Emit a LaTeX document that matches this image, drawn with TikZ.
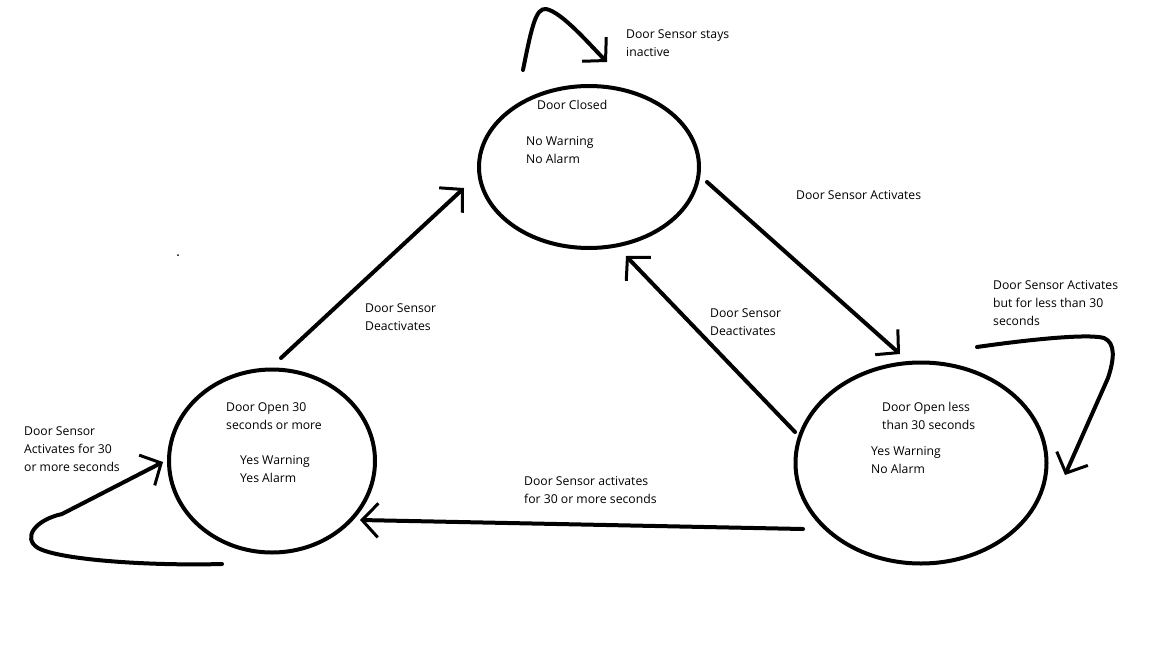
\documentclass[tikz,border=0pt]{standalone}
\usepackage{fontspec}
\setmainfont{Open Sans}
\usepackage{tikz}
\usetikzlibrary{positioning,calc,shapes.geometric,arrows.meta}

\begin{document}
\begin{tikzpicture}[x=1pt,y=-1pt]
        \tikzstyle{state}=[draw, ellipse, line width=4pt, inner sep=0pt]
        \tikzstyle{txt}=[anchor=west, align=left, inner sep=0pt, font=\fontsize{12.2}{18}\selectfont]
        \tikzstyle{edge}=[line width=4pt, line cap=round, line join=round, -{Straight Barb[length=16pt,width=34pt,line width=3pt]}]

        \useasboundingbox (0,0) rectangle (1152,648);

        % states
        \node   (closed)   [state, minimum width=220pt, minimum height=162pt] at (589,167) {};
        \node   (openless) [state, minimum width=251pt, minimum height=201pt] at (921,463) {};
        \node   (openmore) [state, minimum width=206pt, minimum height=183pt] at (272,461) {};

        \node   (closedname)   [txt] at (537,105) {Door Closed};
        \node   (closedout)    [txt] at (526,150) {No Warning\\No Alarm};
        \node   (opennessname) [txt] at (882,416) {Door Open less\\than 30 seconds};
        \node   (openlessout)  [txt] at (871,460) {Yes Warning\\No Alarm};
        \node   (openmorename) [txt] at (226,416) {Door Open 30\\seconds or more};
        \node   (openmoreout)  [txt] at (240,469) {Yes Warning\\Yes Alarm};

        % transitions
        \draw[edge] ($(closed.center)+(118,15)$) -- ($(openless.center)+(-21,-109)$);
        \draw[edge] ($(openless.center)+(-126,-31)$) -- ($(closed.center)+(37,89)$);
        \draw[edge] ($(openmore.center)+(9,-103)$) -- ($(closed.center)+(-125,21)$);
        \draw[edge] ($(openless.center)+(-118,66)$) -- ($(openmore.center)+(88,59)$);

        % loops
        \coordinate (closedloop)   at ($(closed.center)+(-66,-97)$);
        \coordinate (openlessloop) at ($(openless.center)+(56,-116)$);
        \coordinate (openmoreloop) at ($(openmore.center)+(-50,103)$);
        \draw[edge] (closedloop) .. controls (532,25) and (536,8) .. (546,9)
                    .. controls (562,12) and (590,45) .. ($(closed.center)+(18,-105)$);
        \draw[edge] (openlessloop) .. controls (1040,338) and (1090,334) .. (1104,338)
                    .. controls (1116,343) and (1114,360) .. (1108,378) -- ($(openless.center)+(144,12)$);
        \draw[edge] (openmoreloop) .. controls (150,566) and (60,560) .. (38,548)
                    .. controls (22,538) and (35,520) .. (62,514) -- ($(openmore.center)+(-109,1)$);

        % labels
        \node   (stayslabel)      [txt] at (626,43)  {Door Sensor stays\\inactive};
        \node   (activateslabel)  [txt] at (796,195) {Door Sensor Activates};
        \node   (shortlabel)      [txt] at (993,303) {Door Sensor Activates\\but for less than 30\\seconds};
        \node   (deactlesslabel)  [txt] at (710,322) {Door Sensor\\Deactivates};
        \node   (deactmorelabel)  [txt] at (365,317) {Door Sensor\\Deactivates};
        \node   (longlabel)       [txt] at (524,490) {Door Sensor activates\\for 30 or more seconds};
        \node   (staylonglabel)   [txt] at (24,449)  {Door Sensor\\Activates for 30\\or more seconds};

        \fill (178,255) circle (1pt);
    \end{tikzpicture}
\end{document}
